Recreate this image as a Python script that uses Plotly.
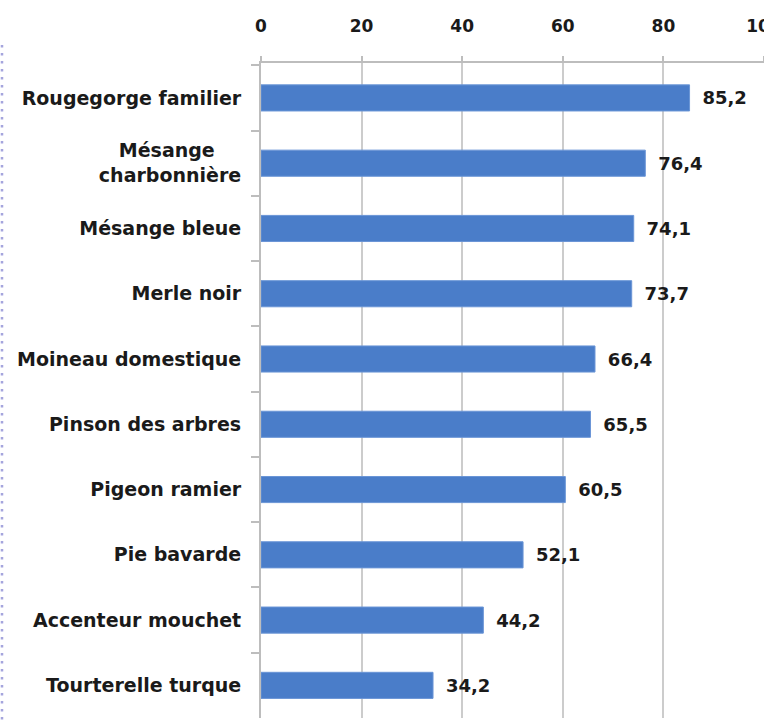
import plotly.graph_objects as go

categories = [
    "Rougegorge familier",
    "Mésange\u00a0\u00a0\u00a0\u00a0<br>charbonnière",
    "Mésange bleue",
    "Merle noir",
    "Moineau domestique",
    "Pinson des arbres",
    "Pigeon ramier",
    "Pie bavarde",
    "Accenteur mouchet",
    "Tourterelle turque",
]
values = [85.2, 76.4, 74.1, 73.7, 66.4, 65.5, 60.5, 52.1, 44.2, 34.2]
x_ticks = [0, 20, 40, 60, 80, 100]

FONT = "DejaVu Sans"
TXT = "#1a1a1a"

fig = go.Figure(
    go.Bar(
        x=values,
        y=categories,
        orientation="h",
        marker=dict(color="#4A7DC9", line=dict(color="#6A95D6", width=1)),
        texttemplate="\u00a0\u2009%{x:.1f}",
        textposition="outside",
        textfont=dict(family=FONT, size=18, color=TXT, weight="bold"),
        cliponaxis=False,
        width=0.4,
    )
)

fig.update_layout(
    width=764,
    height=724,
    margin=dict(l=261, r=0, t=63, b=6),
    paper_bgcolor="white",
    plot_bgcolor="white",
    separators=",.",
    showlegend=False,
    xaxis=dict(
        side="top",
        range=[0, 100],
        tickvals=x_ticks,
        ticktext=[str(t) for t in x_ticks],
        showgrid=True,
        gridcolor="#cccccc",
        gridwidth=2,
        showline=True,
        linecolor="#bdbdbd",
        linewidth=2,
        ticks="outside",
        ticklen=5,
        tickwidth=2,
        tickcolor="#bdbdbd",
        tickfont=dict(family=FONT, size=17, color=TXT, weight="bold"),
        ticklabelstandoff=17,
        ticklabeloverflow="allow",
        automargin=False,
        zeroline=False,
        fixedrange=True,
    ),
    yaxis=dict(
        range=[9.5, -0.535],
        showline=True,
        linecolor="#bdbdbd",
        linewidth=2,
        ticks="outside",
        tickson="boundaries",
        ticklen=8,
        tickwidth=2,
        tickcolor="#bdbdbd",
        tickfont=dict(family=FONT, size=19, color=TXT, weight="bold"),
        ticklabelstandoff=14,
        automargin=False,
        showgrid=False,
        fixedrange=True,
    ),
    shapes=[
        dict(
            type="line",
            xref="paper",
            yref="paper",
            x0=-259 / 503,
            x1=-259 / 503,
            y0=1 + 18 / 655,
            y1=-6 / 655,
            line=dict(color="#a5a5dd", width=2.5, dash="2.5px,5.5px"),
        )
    ],
)

fig.write_html(
    "out.html",
    config={"displayModeBar": False},
    post_script="document.body.style.margin='0px';document.body.style.overflow='hidden';",
)
